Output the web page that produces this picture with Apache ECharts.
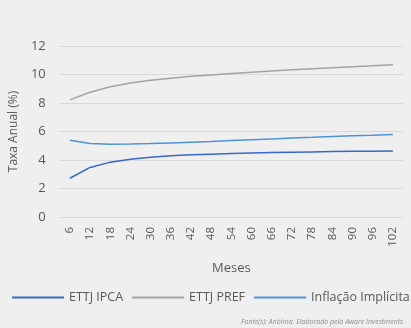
<!DOCTYPE html>
<html>
<head>
<meta charset="utf-8">
<script src="https://cdn.jsdelivr.net/npm/echarts@6/dist/echarts.min.js"></script>
<style>
  html, body { margin: 0; padding: 0; background: #efefef; overflow: hidden; }
  #chart { width: 411px; height: 328px; }
</style>
</head>
<body>
<div id="chart"></div>
<script>
// Prazo em meses
const meses = ['6','12','18','24','30','36','42','48','54','60','66','72','78','84','90','96','102'];

// Curvas (% a.a.)
const ettjIpca = [2.72, 3.48, 3.85, 4.05, 4.19, 4.29, 4.36, 4.41, 4.46, 4.49, 4.52, 4.55, 4.57, 4.59, 4.61, 4.62, 4.64];
const ettjPref = [8.22, 8.75, 9.14, 9.40, 9.59, 9.74, 9.87, 9.97, 10.07, 10.16, 10.25, 10.33, 10.41, 10.48, 10.55, 10.61, 10.68];
const inflImplicita = [5.38, 5.16, 5.10, 5.12, 5.15, 5.20, 5.25, 5.30, 5.36, 5.42, 5.48, 5.54, 5.59, 5.65, 5.70, 5.74, 5.79];

const yTicks = [0, 2, 4, 6, 8, 10, 12];

const font = '"Open Sans", "Noto Sans", sans-serif';
const textColor = '#595959';

const chart = echarts.init(document.getElementById('chart'));
chart.setOption({
  backgroundColor: '#efefef',
  animation: false,
  textStyle: { fontFamily: font },
  grid: { left: 59, right: 8, top: 46, bottom: 111, containLabel: false },
  graphic: [{
    type: 'text',
    right: 8,
    top: 318,
    style: {
      text: 'Fonte(s): Anbima. Elaborado pela Aware Investments',
      fontSize: 7,
      fontStyle: 'italic',
      fontFamily: font,
      fill: '#8c8c8c'
    }
  }],
  legend: {
    left: 12,
    top: 291,
    width: 1000,
    padding: 0,
    icon: 'rect',
    itemWidth: 52,
    itemHeight: 2,
    itemGap: 9,
    textStyle: { color: textColor, fontSize: 12.5, fontFamily: font },
    data: ['ETTJ IPCA', 'ETTJ PREF', 'Inflação Implícita']
  },
  xAxis: {
    type: 'category',
    data: meses,
    boundaryGap: true,
    name: 'Meses',
    nameLocation: 'middle',
    nameGap: 45,
    nameTextStyle: { color: textColor, fontSize: 13 },
    axisLine: { show: true, lineStyle: { color: '#d9d9d9', width: 1 } },
    axisTick: { show: false },
    axisLabel: { rotate: 90, color: textColor, fontSize: 11.5, margin: 10, interval: 0 }
  },
  yAxis: {
    type: 'value',
    min: yTicks[0],
    max: yTicks[yTicks.length - 1],
    interval: 2,
    name: 'Taxa Anual (%)',
    nameLocation: 'middle',
    nameGap: 37,
    nameTextStyle: { color: textColor, fontSize: 12 },
    axisLine: { show: false },
    axisTick: { show: false },
    axisLabel: { color: textColor, fontSize: 13, margin: 14 },
    splitLine: { lineStyle: { color: '#d9d9d9', width: 1 } }
  },
  series: [
    {
      name: 'ETTJ IPCA', type: 'line', data: ettjIpca, symbol: 'none',
      lineStyle: { color: '#3568c9', width: 1.5 }, itemStyle: { color: '#3568c9' }
    },
    {
      name: 'ETTJ PREF', type: 'line', data: ettjPref, symbol: 'none',
      lineStyle: { color: '#a3a3a3', width: 1.5 }, itemStyle: { color: '#a3a3a3' }
    },
    {
      name: 'Inflação Implícita', type: 'line', data: inflImplicita, symbol: 'none',
      lineStyle: { color: '#4d93dc', width: 1.5 }, itemStyle: { color: '#4d93dc' }
    }
  ]
});
</script>
</body>
</html>
